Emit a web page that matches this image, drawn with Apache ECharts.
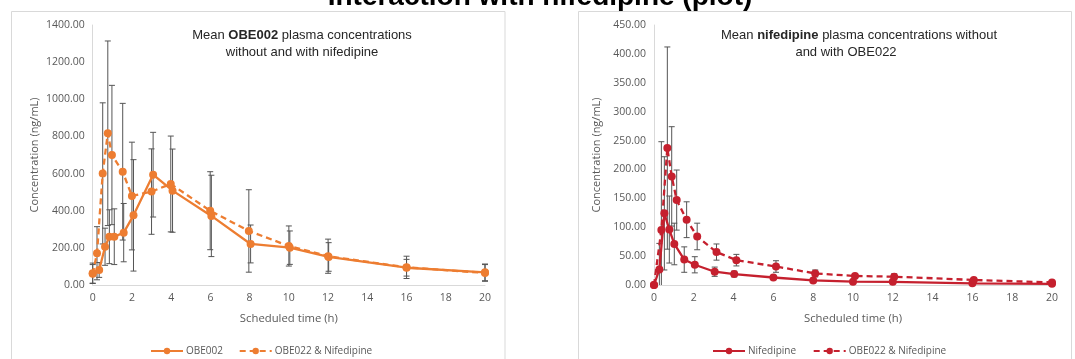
<!DOCTYPE html>
<html><head><meta charset="utf-8">
<script src="https://cdn.jsdelivr.net/npm/echarts@6/dist/echarts.min.js"></script>
<style>html,body{margin:0;padding:0;background:#fff}#c{width:1075px;height:359px}</style>
</head><body><div id="c"></div>
<script>
// ---- Left chart: OBE002 ----
const obeTime    = [0, 0.33, 0.63, 0.85, 1.1, 1.58, 2.08, 3.08, 4.07, 6.05, 8.05, 10.05, 12.03, 16, 20];
const obeMean    = [63, 81, 206, 260, 260, 282, 375, 594, 508, 372, 221, 201, 151, 93, 68];
const obeSD      = [55, 40, 100, 145, 150, 157, 300, 228, 224, 219, 102, 90, 77, 45, 45];
const obeNifTime = [0, 0.22, 0.51, 0.77, 0.98, 1.53, 2.0, 3.0, 3.98, 5.99, 7.96, 10, 12, 16, 20];
const obeNifMean = [60, 171, 601, 817, 700, 610, 479, 503, 544, 400, 291, 210, 155, 95, 65];
const obeNifSD   = [50, 143, 380, 497, 375, 368, 290, 230, 258, 210, 222, 108, 92, 60, 45];
// ---- Right chart: nifedipine ----
const nifTime    = [0, 0.27, 0.52, 0.77, 1.02, 1.52, 2.05, 3.05, 4.03, 6.0, 8.0, 10.0, 12.0, 16.0, 20];
const nifMean    = [0, 27, 124, 96, 71, 44, 35, 23, 19, 13, 8, 5.8, 5.5, 2.9, 2];
const nifSD      = [0, 45, 98, 58, 36, 22, 14, 8, 5, 3, 2, 1.5, 1.5, 1, 1];
const nifObeTime = [0, 0.37, 0.67, 0.89, 1.14, 1.64, 2.17, 3.14, 4.14, 6.13, 8.1, 10.1, 12.07, 16.07, 20];
const nifObeMean = [0, 95, 237, 188, 147, 113, 84, 57, 43, 32, 20, 15.6, 14.4, 8.7, 4.5];
const nifObeSD   = [0, 153, 175, 86, 52, 31, 23, 14, 10, 10, 6, 3, 5, 2, 2];

const mainTitle = 'Interaction with nifedipine (plot)';
const leftName1 = 'OBE002', leftName2 = 'OBE022 & Nifedipine';
const rightName1 = 'Nifedipine', rightName2 = 'OBE022 & Nifedipine ';

const ORANGE = '#ED7D31', RED = '#C5202E', GRAY = '#595959', FONT = 'Open Sans';

function pts(t, m) { return t.map((x, i) => [x, m[i]]); }
function errs(t, m, s) { return t.map((x, i) => [x, m[i], s[i]]); }

function errRender(params, api) {
  const x = api.value(0), m = api.value(1), s = api.value(2);
  if (!s) return null;
  const hi = api.coord([x, m + s]);
  const loV = Math.max(0, m - s);
  const lo = api.coord([x, loV]);
  const w = 3;
  const st = { stroke: '#555555', lineWidth: 1 };
  const ch = [
    { type: 'line', shape: { x1: hi[0], y1: hi[1], x2: lo[0], y2: lo[1] }, style: st },
    { type: 'line', shape: { x1: hi[0] - w, y1: hi[1], x2: hi[0] + w, y2: hi[1] }, style: st }
  ];
  if (m - s > 0) ch.push({ type: 'line', shape: { x1: lo[0] - w, y1: lo[1], x2: lo[0] + w, y2: lo[1] }, style: st });
  return { type: 'group', children: ch };
}

function xAxis(gi) {
  return {
    type: 'value', gridIndex: gi, min: 0, max: 20, interval: 2,
    name: 'Scheduled time (h)', nameLocation: 'middle', nameGap: 28,
    nameTextStyle: { color: GRAY, fontFamily: FONT, fontSize: 11.3 },
    axisLine: { lineStyle: { color: '#d9d9d9', width: 1 } },
    axisTick: { show: false }, splitLine: { show: false },
    axisLabel: { color: GRAY, fontFamily: FONT, fontSize: 10.5, margin: 8 }
  };
}
function yAxis(gi, max, interval) {
  return {
    type: 'value', gridIndex: gi, min: 0, max: max, interval: interval,
    name: 'Concentration (ng/mL)', nameLocation: 'middle', nameGap: 52, nameRotate: 90,
    nameTextStyle: { color: GRAY, fontFamily: FONT, fontSize: 11 },
    axisLine: { show: true, lineStyle: { color: '#d9d9d9', width: 1 } },
    axisTick: { show: false }, splitLine: { show: false },
    axisLabel: { color: GRAY, fontFamily: FONT, fontSize: 10.5, margin: 8, formatter: v => v.toFixed(2) }
  };
}
function lineSeries(name, gi, data, color, dashed) {
  return {
    type: 'line', name: name, xAxisIndex: gi, yAxisIndex: gi, data: data,
    symbol: 'circle', symbolSize: 8, z: 5,
    itemStyle: { color: color },
    lineStyle: { color: color, width: 2.3, type: dashed ? [6, 4] : 'solid' },
    emphasis: { disabled: true }, animation: false
  };
}
function errSeries(gi, data) {
  return { type: 'custom', xAxisIndex: gi, yAxisIndex: gi, data: data, renderItem: errRender, z: 2, silent: true, animation: false };
}
function legendItem(name, left) {
  return {
    data: [name], left: left, top: 346, padding: 0, itemWidth: 32, itemHeight: 8, itemGap: 4,
    textStyle: { color: GRAY, fontFamily: FONT, fontSize: 10, padding: [0, 0, 0, -2] },
    formatter: n => n.trim(), selectedMode: false
  };
}

const chart = echarts.init(document.getElementById('c'), null, { renderer: 'canvas' });
chart.setOption({
  animation: false,
  backgroundColor: '#ffffff',
  grid: [
    { left: 92.7, right: 590, top: 25, bottom: 74 },
    { left: 654, right: 23, top: 25, bottom: 74 }
  ],
  xAxis: [xAxis(0), xAxis(1)],
  yAxis: [yAxis(0, 1400, 200), yAxis(1, 450, 50)],
  legend: [
    legendItem(leftName1, 150), legendItem(leftName2, 238.7),
    legendItem(rightName1, 712), legendItem(rightName2, 812.7)
  ],
  graphic: [
    { type: 'rect', shape: { x: 11.5, y: 11.5, width: 493.5, height: 360 }, style: { fill: 'none', stroke: '#d9d9d9', lineWidth: 1 }, z: -1 },
    { type: 'rect', shape: { x: 578.5, y: 11.5, width: 493, height: 360 }, style: { fill: 'none', stroke: '#d9d9d9', lineWidth: 1 }, z: -1 },
    { type: 'text', x: 540, y: 11, style: { text: mainTitle, fill: '#000', font: 'bold 28px "Liberation Sans", Arial', textAlign: 'center', textVerticalAlign: 'bottom' } },
    { type: 'text', x: 302, y: 35, style: { text: '{n|Mean }{b|OBE002}{n| plasma concentrations}', textAlign: 'center', textVerticalAlign: 'middle',
      rich: { n: { fontFamily: 'Liberation Sans', fontSize: 13, fill: '#262626' }, b: { fontFamily: 'Liberation Sans', fontSize: 13, fontWeight: 'bold', fill: '#262626' } } } },
    { type: 'text', x: 302, y: 52, style: { text: 'without and with nifedipine', textAlign: 'center', textVerticalAlign: 'middle', fontFamily: 'Liberation Sans', fontSize: 13, fill: '#262626' } },
    { type: 'text', x: 859, y: 35, style: { text: '{n|Mean }{b|nifedipine}{n| plasma concentrations without}', textAlign: 'center', textVerticalAlign: 'middle',
      rich: { n: { fontFamily: 'Liberation Sans', fontSize: 13, fill: '#262626' }, b: { fontFamily: 'Liberation Sans', fontSize: 13, fontWeight: 'bold', fill: '#262626' } } } },
    { type: 'text', x: 846, y: 52, style: { text: 'and with OBE022', textAlign: 'center', textVerticalAlign: 'middle', fontFamily: 'Liberation Sans', fontSize: 13, fill: '#262626' } }
  ],
  series: [
    errSeries(0, errs(obeTime, obeMean, obeSD)),
    errSeries(0, errs(obeNifTime, obeNifMean, obeNifSD)),
    errSeries(1, errs(nifTime, nifMean, nifSD)),
    errSeries(1, errs(nifObeTime, nifObeMean, nifObeSD)),
    lineSeries(leftName1, 0, pts(obeTime, obeMean), ORANGE, false),
    lineSeries(leftName2, 0, pts(obeNifTime, obeNifMean), ORANGE, true),
    lineSeries(rightName1, 1, pts(nifTime, nifMean), RED, false),
    lineSeries(rightName2, 1, pts(nifObeTime, nifObeMean), RED, true)
  ]
});
</script>
</body></html>
